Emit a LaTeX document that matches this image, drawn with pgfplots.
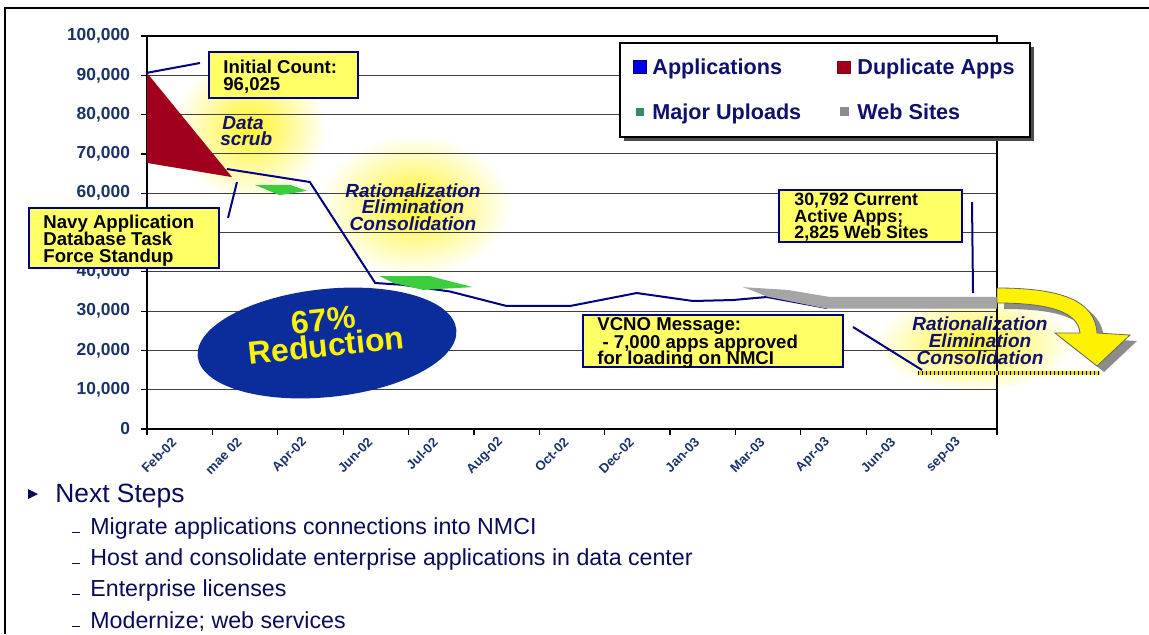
\documentclass[border=0pt]{standalone}
\usepackage{fontspec}
\setmainfont{Liberation Sans}
\usepackage{pgfplots}
\pgfplotsset{compat=1.18}
\usetikzlibrary{fadings}

\definecolor{navytxt}{RGB}{16,16,110}
\definecolor{ticknavy}{RGB}{25,50,105}
\definecolor{appblue}{RGB}{0,0,128}
\definecolor{dupred}{RGB}{160,0,30}
\definecolor{upgreen}{RGB}{60,205,60}
\definecolor{legreen}{RGB}{50,140,100}
\definecolor{webgray}{RGB}{165,165,165}
\definecolor{callout}{RGB}{255,255,102}
\definecolor{ellblue}{RGB}{10,45,155}
\definecolor{steps}{RGB}{10,10,90}

\tikzfading[name=glow, inner color=transparent!0, outer color=transparent!100]

\newcommand{\cfont}{\fontsize{9.3}{9.3}\selectfont\bfseries}
\newcommand{\ifont}{\fontsize{9.5}{9.5}\selectfont\bfseries\itshape}

\begin{document}
\begin{tikzpicture}
\path[use as bounding box] (0,0) rectangle (574.5pt,317pt);

% yellow glows behind the grid
\begin{scope}[shift={(0pt,317pt)}, x=0.5pt, y=-0.5pt]
  \fill[yellow!85, path fading=glow] (250,128) ellipse [x radius=38pt, y radius=36pt];
  \fill[yellow!85, path fading=glow] (415,205) ellipse [x radius=48pt, y radius=35pt];
  \fill[yellow!85, path fading=glow] (975,343) ellipse [x radius=50pt, y radius=24pt];
\end{scope}

\begin{axis}[
  at={(73.5pt,102.5pt)}, anchor=south west,
  scale only axis, width=425pt, height=196.5pt,
  xmin=0, xmax=13, ymin=0, ymax=100000,
  axis line style={black, line width=0.8pt},
  xtick={0,...,13}, xticklabels={,,,,,,,,,,,,,},
  extra x ticks={0.5,1.5,...,12.5},
  extra x tick labels={Feb-02,mae 02,Apr-02,Jun-02,Jul-02,Aug-02,Oct-02,Dec-02,Jan-03,Mar-03,Apr-03,Jun-03,sep-03},
  extra x tick style={major tick length=0pt, grid=none,
    tick label style={rotate=45, anchor=east, xshift=-2.5pt, yshift=-2pt,
      font=\fontsize{6.6}{7}\selectfont\bfseries, text=ticknavy}},
  ytick={0,10000,20000,30000,40000,50000,60000,70000,80000,90000,100000},
  yticklabels={0,{10,000},{20,000},{30,000},{40,000},{50,000},{60,000},{70,000},{80,000},{90,000},{100,000}},
  scaled y ticks=false,
  yticklabel style={font=\fontsize{8.7}{9}\selectfont\bfseries, text=ticknavy, xshift=-2pt},
  tick align=outside, major tick length=3pt,
  xtick pos=bottom, ytick pos=left,
  tick style={black, line width=0.6pt},
  ymajorgrids, grid style={black!75, line width=0.5pt},
]
% Duplicate Apps
\addplot[fill=dupred, draw=none] coordinates {(0,90600) (0,67700) (1.30,64100)} -- cycle;
% Applications
\addplot[appblue, line width=1pt] coordinates {
  (1.22,66160) (2.49,62850) (3.49,37150) (3.90,36700) (4.63,35000)
  (5.50,31300) (6.47,31300) (7.49,34600) (8.35,32570) (8.96,32820)
  (9.48,33590) (10.40,30790)};
% Major Uploads
\addplot[fill=upgreen, draw=none] coordinates {(1.65,62100) (2.19,62100) (2.45,60600) (2.03,59500)} -- cycle;
\addplot[fill=upgreen, draw=none] coordinates {(3.56,38900) (4.33,38900) (4.98,36100) (4.22,35400) (3.76,37200)} -- cycle;
% Web Sites
\addplot[fill=webgray, draw=none] coordinates {
  (9.11,36100) (9.79,35400) (10.44,33600) (13,33600) (13,30600)
  (10.40,30600) (9.48,33700) (9.20,35600)} -- cycle;
\end{axis}

\begin{scope}[shift={(0pt,317pt)}, x=0.5pt, y=-0.5pt]
  % frame
  \draw[black, line width=1.2pt] (5,634) -- (5,8) -- (1149,8);

  % legend
  \fill[black!70] (624,47) rectangle (1034,141);
  \draw[black, line width=0.6pt, fill=white] (620,43) rectangle (1030,137);
  \draw[appblue, fill={rgb,255:red,0;green,0;blue,230}] (633,60) rectangle (646,73);
  \draw[dupred!80!black, fill=dupred] (837,61) rectangle (850,73);
  \fill[legreen] (636,108) rectangle (644,116);
  \fill[webgray!85!black] (840,107) rectangle (849,116);
  \begin{scope}[every node/.style={anchor=base west, inner sep=0pt, text=navytxt,
      font=\fontsize{10.8}{11}\selectfont\bfseries}]
    \node at (652,74) {Applications};
    \node at (857,74) {Duplicate Apps};
    \node at (652,119) {Major Uploads};
    \node at (857,119) {Web Sites};
  \end{scope}

  % leader lines
  \draw[appblue, line width=1pt] (146,73) -- (200,63);
  \draw[appblue, line width=1pt] (237,182) -- (228,218);
  \draw[appblue, line width=1pt] (972,202) -- (973,293);
  \draw[appblue, line width=1pt] (853,327) -- (922,370);

  % hatched base line
  \draw[yellow!90!black, line width=2pt] (918,373) -- (1100,373);
  \draw[black, line width=2pt, dash pattern=on 0.6pt off 1.4pt] (918,373) -- (1100,373);

  % curved arrow
  \fill[black!45] (1004,294) .. controls (1067,294) and (1102,306) .. (1104,339)
     -- (1137,341) -- (1104,372) -- (1062,339) -- (1087,339)
     .. controls (1085,318) and (1057,309) .. (1004,309) -- cycle;
  \draw[black!60, line width=0.4pt, fill=yellow] (997,288) .. controls (1060,288) and (1095,300) .. (1097,333)
     -- (1130,335) -- (1097,366) -- (1055,333) -- (1080,333)
     .. controls (1078,312) and (1050,303) .. (997,303) -- cycle;

  % callouts
  \begin{scope}[every node/.style={anchor=base west, inner sep=0pt, text=black!85!navytxt, font=\cfont}]
    \draw[appblue, line width=1.2pt, fill=callout] (209,52) rectangle (358,98);
    \node at (223,73) {Initial Count:};
    \node at (223,90) {96,025};
    \draw[appblue, line width=1.2pt, fill=callout] (29,208) rectangle (219,268);
    \node at (43,228) {Navy Application};
    \node at (43,245) {Database Task};
    \node at (43,262) {Force Standup};
    \draw[appblue, line width=1.2pt, fill=callout] (779,190) rectangle (962,242);
    \node[font=\fontsize{8.9}{9}\selectfont\bfseries] at (794,205) {30,792 Current};
    \node[font=\fontsize{8.9}{9}\selectfont\bfseries] at (794,222) {Active Apps;};
    \node[font=\fontsize{8.9}{9}\selectfont\bfseries] at (794,238) {2,825 Web Sites};
    \draw[appblue, line width=1.2pt, fill=callout] (583,315) rectangle (843,367);
    \node at (597,330) {VCNO Message:};
    \node at (597,348) {\ - 7,000 apps approved};
    \node at (597,364) {for loading on NMCI};
  \end{scope}

  % italic notes
  \begin{scope}[every node/.style={inner sep=0pt, text=navytxt, font=\ifont}]
    \node[anchor=base west] at (222,129) {Data};
    \node[anchor=base west] at (220,145) {scrub};
    \node[anchor=base] at (413,197) {Rationalization};
    \node[anchor=base] at (413,213) {Elimination};
    \node[anchor=base] at (413,230) {Consolidation};
    \node[anchor=base] at (980,330) {Rationalization};
    \node[anchor=base] at (980,347) {Elimination};
    \node[anchor=base] at (980,364) {Consolidation};
  \end{scope}

  % 67% reduction
  \fill[ellblue, rotate around={6:(327,343)}] (327,343) ellipse [x radius=65pt, y radius=27pt];
  \node[rotate=6, align=center, text=yellow, inner sep=0pt,
    font=\fontsize{16}{11.5}\selectfont\bfseries] at (325,333) {67\%\\Reduction};

  % next steps
  \fill[steps] (28,489) -- (38,494) -- (28,499) -- cycle;
  \node[anchor=base west, inner sep=0pt, text=steps, font=\fontsize{13.2}{13}\selectfont] at (55,502) {Next Steps};
  \begin{scope}[every node/.style={anchor=base west, inner sep=0pt, text=steps,
      font=\fontsize{11.6}{12}\selectfont}]
    \foreach \yy/\txt in {534/Migrate applications connections into NMCI,
        565/Host and consolidate enterprise applications in data center,
        596/Enterprise licenses, 628/Modernize; web services} {
      \draw[steps, line width=0.7pt] (72,\yy-1.5) -- (80,\yy-1.5);
      \node at (90,\yy) {\txt};
    }
  \end{scope}
\end{scope}
\end{tikzpicture}
\end{document}
